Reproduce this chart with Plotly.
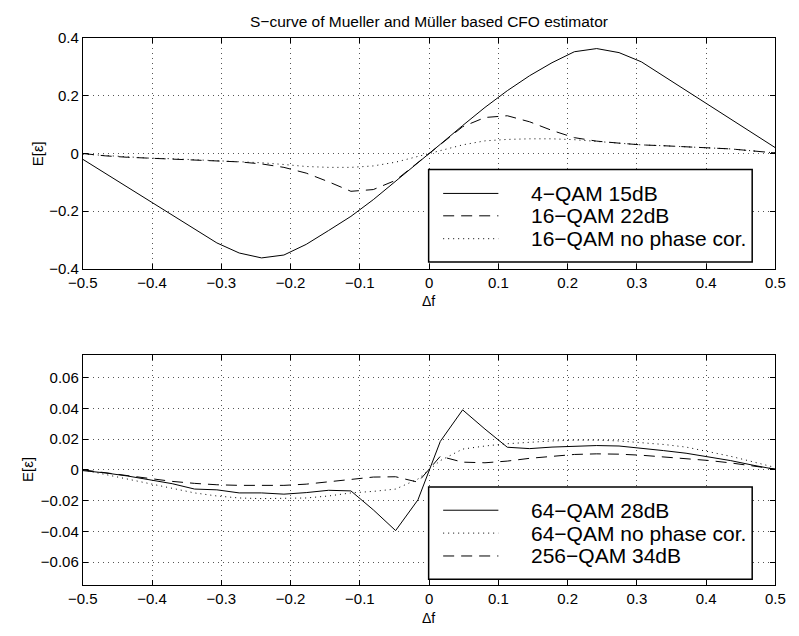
import numpy as np
import plotly.graph_objects as go

# Frequency offset grid (32 samples from -0.5 to 0.5)
delta_f = np.linspace(-0.5, 0.5, 32)

# Upper panel: S-curves
qam4_15db = [-0.02, -0.068, -0.117, -0.165, -0.214, -0.262, -0.31, -0.345,
             -0.362, -0.352, -0.315, -0.267, -0.218, -0.16, -0.097, -0.032,
             0.032, 0.097, 0.16, 0.218, 0.27, 0.315, 0.353, 0.364,
             0.35, 0.318, 0.268, 0.218, 0.168, 0.118, 0.069, 0.02]
qam16_22db = [0.0, -0.008, -0.013, -0.016, -0.019, -0.022, -0.024, -0.029,
              -0.036, -0.048, -0.068, -0.098, -0.131, -0.125, -0.093, -0.032,
              0.032, 0.093, 0.125, 0.131, 0.11, 0.08, 0.055, 0.043,
              0.036, 0.03, 0.027, 0.024, 0.02, 0.016, 0.009, 0.002]
qam16_nophase = [-0.002, -0.007, -0.012, -0.016, -0.018, -0.021, -0.024, -0.027,
                 -0.032, -0.038, -0.045, -0.048, -0.048, -0.043, -0.03, -0.01,
                 0.01, 0.03, 0.044, 0.049, 0.051, 0.051, 0.048, 0.042,
                 0.036, 0.03, 0.027, 0.024, 0.02, 0.016, 0.009, 0.002]

# Lower panel: S-curves
qam64_28db = [-0.0005, -0.002, -0.004, -0.0065, -0.009, -0.0125, -0.013, -0.015,
              -0.015, -0.0158, -0.0148, -0.0133, -0.0137, -0.026, -0.0395, -0.0195,
              0.0185, 0.039, 0.0265, 0.0147, 0.0138, 0.0148, 0.0155, 0.0158,
              0.0155, 0.0142, 0.0125, 0.0108, 0.0085, 0.006, 0.003, 0.0003]
qam64_nophase = [0.0, -0.003, -0.006, -0.009, -0.012, -0.015, -0.017, -0.0183,
                 -0.0187, -0.0187, -0.0183, -0.017, -0.015, -0.014, -0.0125, -0.006,
                 0.006, 0.0135, 0.0155, 0.017, 0.018, 0.0188, 0.0193, 0.0193,
                 0.0188, 0.0178, 0.0165, 0.0148, 0.012, 0.0088, 0.0052, 0.0015]
qam256_34db = [0.0, -0.0018, -0.0038, -0.0058, -0.0075, -0.0088, -0.0097, -0.0101,
               -0.0102, -0.0101, -0.0093, -0.0078, -0.0064, -0.0047, -0.0045, -0.008,
               0.0088, 0.005, 0.0046, 0.0057, 0.0075, 0.0088, 0.01, 0.0104,
               0.0102, 0.0095, 0.0085, 0.0075, 0.0061, 0.0045, 0.0025, 0.0005]

x_ticks = [-0.5, -0.4, -0.3, -0.2, -0.1, 0, 0.1, 0.2, 0.3, 0.4, 0.5]
y_ticks_top = [-0.4, -0.2, 0, 0.2, 0.4]
y_ticks_bottom = [-0.06, -0.04, -0.02, 0, 0.02, 0.04, 0.06]

title_text = "S\u2212curve of Mueller and M\u00fcller based CFO estimator"
legend_top = ["4\u2212QAM 15dB", "16\u2212QAM 22dB", "16\u2212QAM no phase cor."]
legend_bottom = ["64\u2212QAM 28dB", "64\u2212QAM no phase cor.", "256\u2212QAM 34dB"]

W, H = 799, 636
FONT = "Liberation Sans, Arial, Helvetica, sans-serif"
DASH = "11px,7px"
DOT = "1px,4px"


def px(x):
    return x / W


def py(y):
    return 1 - y / H


fig = go.Figure()

top_series = [(qam4_15db, "solid"), (qam16_22db, DASH), (qam16_nophase, DOT)]
for vals, dash in top_series:
    fig.add_trace(go.Scatter(x=delta_f, y=vals, mode="lines",
                             line=dict(color="black", width=1, dash=dash),
                             xaxis="x", yaxis="y", showlegend=False,
                             hoverinfo="skip"))

bottom_series = [(qam64_28db, "solid"), (qam64_nophase, DOT), (qam256_34db, DASH)]
for vals, dash in bottom_series:
    fig.add_trace(go.Scatter(x=delta_f, y=vals, mode="lines",
                             line=dict(color="black", width=1, dash=dash),
                             xaxis="x2", yaxis="y2", showlegend=False,
                             hoverinfo="skip"))

axis_style = dict(
    showline=True, linecolor="black", linewidth=1, mirror="ticks",
    ticks="inside", ticklen=5, tickcolor="black", tickwidth=1,
    showgrid=True, gridcolor="#555555", gridwidth=1, griddash=DOT,
    zeroline=False, tickfont=dict(family=FONT, size=15, color="black"),
)

fig.update_layout(
    width=W, height=H,
    margin=dict(l=0, r=0, t=0, b=0),
    paper_bgcolor="white", plot_bgcolor="white",
    xaxis=dict(domain=[px(70), px(785)], range=[-0.5, 0.5], anchor="y",
               tickmode="array", tickvals=x_ticks, **axis_style),
    yaxis=dict(domain=[py(267), py(30)], range=[-0.4, 0.4], anchor="x",
               tickmode="array", tickvals=y_ticks_top, **axis_style),
    xaxis2=dict(domain=[px(70), px(785)], range=[-0.5, 0.5], anchor="y2",
                tickmode="array", tickvals=x_ticks, **axis_style),
    yaxis2=dict(domain=[py(592), py(355)], range=[-0.075, 0.075], anchor="x2",
                tickmode="array", tickvals=y_ticks_bottom, **axis_style),
)

annotations = [
    dict(text=title_text, x=px(427.5), y=py(12.5), xanchor="center", yanchor="middle",
         font=dict(size=15.5, family=FONT, color="black")),
    dict(text="\u0394f", x=px(427), y=py(300), xanchor="center", yanchor="middle",
         font=dict(size=14, family=FONT, color="black")),
    dict(text="\u0394f", x=px(427), y=py(626), xanchor="center", yanchor="middle",
         font=dict(size=14, family=FONT, color="black")),
    dict(text="E[\u03b5]", x=px(23.5), y=py(148.5), xanchor="center", yanchor="middle",
         textangle=-90, font=dict(size=15, family=FONT, color="black")),
    dict(text="E[\u03b5]", x=px(13.5), y=py(473.5), xanchor="center", yanchor="middle",
         textangle=-90, font=dict(size=15, family=FONT, color="black")),
]

shapes = []


def add_legend(box, rows, labels, dashes):
    x0, y0, x1, y1 = box
    shapes.append(dict(type="rect", xref="paper", yref="paper",
                       x0=px(x0), x1=px(x1), y0=py(y1), y1=py(y0),
                       line=dict(color="black", width=1.5), fillcolor="white",
                       layer="above"))
    for y, label, dash in zip(rows, labels, dashes):
        shapes.append(dict(type="line", xref="paper", yref="paper",
                           x0=px(442), x1=px(499), y0=py(y), y1=py(y),
                           line=dict(color="black", width=1, dash=dash),
                           layer="above"))
        annotations.append(dict(text=label, x=px(531), y=py(y), xanchor="left",
                                yanchor="middle", showarrow=False,
                                font=dict(size=21, family=FONT, color="black")))


add_legend((427, 165, 761, 260), [189.5, 212.5, 236], legend_top, ["solid", DASH, DOT])
add_legend((427, 491, 761, 586), [515, 538.5, 562], legend_bottom, ["solid", DOT, DASH])

for a in annotations:
    a.setdefault("showarrow", False)
    a["xref"] = "paper"
    a["yref"] = "paper"

fig.update_layout(annotations=annotations, shapes=shapes)

fig.write_html("out.html")
